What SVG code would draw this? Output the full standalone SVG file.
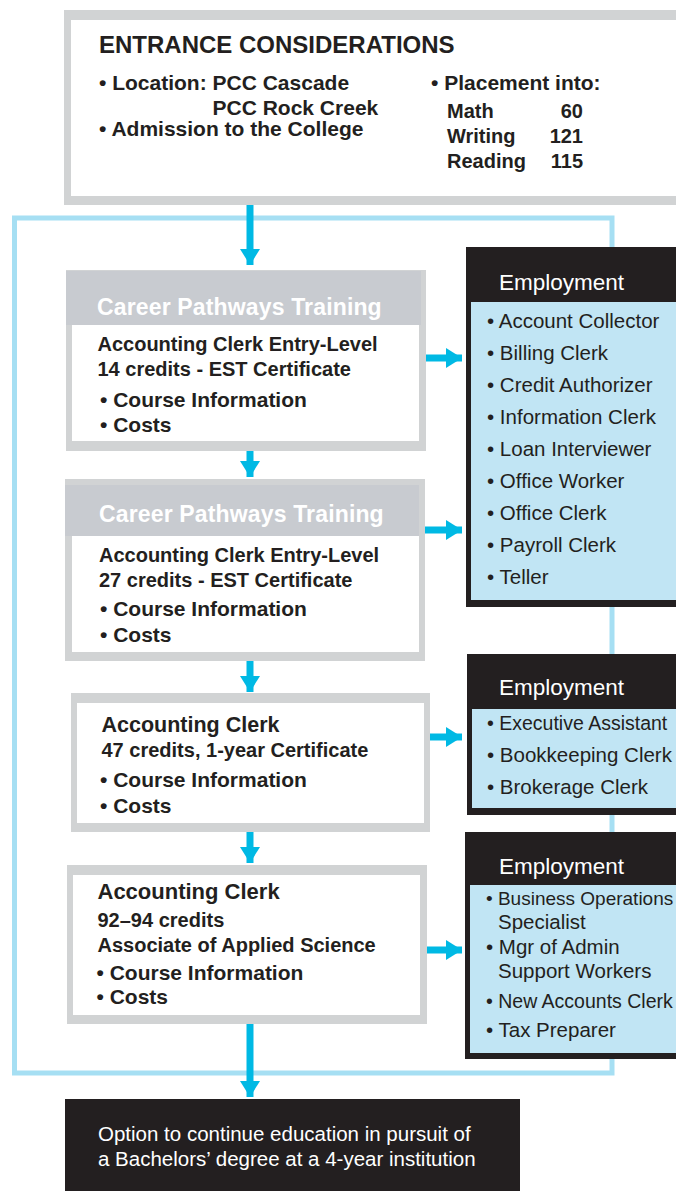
<svg xmlns="http://www.w3.org/2000/svg" width="676" height="1191" viewBox="0 0 676 1191">
<style>
.border{fill:#d1d3d4}
.hdr{fill:#c8cbd0}
.white{fill:#ffffff}
.blk{fill:#231f20}
.lb{fill:#c1e5f4}
.t{font-family:"Liberation Sans",Arial,Helvetica,sans-serif;fill:#231f20}
.b{font-weight:bold}
.h1{font-size:24px;font-weight:bold}
.e{font-size:21px;font-weight:bold}
.m{font-size:20px;font-weight:bold}
.ch{font-family:"Liberation Sans",Arial,sans-serif;font-size:23px;font-weight:bold;fill:#ffffff;letter-spacing:0.15px}
.emp{font-family:"Liberation Sans",Arial,sans-serif;font-size:22.5px;fill:#ffffff}
.li{font-family:"Liberation Sans",Arial,sans-serif;font-size:20.5px;fill:#231f20}
.opt{font-family:"Liberation Sans",Arial,sans-serif;font-size:20.5px;fill:#ffffff}
.conn{stroke:#00b9e4;stroke-width:7;fill:none}
</style>
<defs>
<marker id="ah" viewBox="0 0 16 20" markerUnits="userSpaceOnUse" markerWidth="16" markerHeight="20" refX="16" refY="10" orient="auto">
<path d="M0,0 L16,10 L0,20 Z" fill="#00b9e4"/>
</marker>
</defs>
<rect width="676" height="1191" fill="#ffffff"/>

<!-- frame -->
<rect id="frame" x="14.5" y="218" width="597.5" height="855" fill="none" stroke="#a6dff3" stroke-width="5"/>

<!-- entrance -->
<g id="entrance">
<rect class="border" x="64" y="10" width="626" height="195"/>
<rect class="white" x="71" y="20" width="619" height="176"/>
<text class="t h1" x="99" y="53">ENTRANCE CONSIDERATIONS</text>
<text class="t e" x="99" y="90">• Location: PCC Cascade</text>
<text class="t e" x="212.5" y="115">PCC Rock Creek</text>
<text class="t e" x="99" y="136">• Admission to the College</text>
<text class="t e" x="431" y="90">• Placement into:</text>
<text class="t m" x="447" y="118">Math</text>
<text class="t m" x="583" y="118" text-anchor="end">60</text>
<text class="t m" x="447" y="143">Writing</text>
<text class="t m" x="583" y="143" text-anchor="end">121</text>
<text class="t m" x="447" y="168">Reading</text>
<text class="t m" x="583" y="168" text-anchor="end">115</text>
</g>

<!-- box 1 -->
<g id="cpt1">
<rect class="border" x="66" y="270" width="360" height="181"/>
<rect class="hdr" x="66" y="271" width="355" height="54"/>
<rect class="white" x="72" y="325" width="347" height="116"/>
<text class="ch" x="97" y="315">Career Pathways Training</text>
<text class="t m" x="97.5" y="351">Accounting Clerk Entry-Level</text>
<text class="t m" x="97.5" y="376">14 credits - EST Certificate</text>
<text class="t e" x="100" y="407">• Course Information</text>
<text class="t e" x="100" y="432">• Costs</text>
</g>

<!-- box 2 -->
<g id="cpt2">
<rect class="border" x="65" y="479" width="360" height="182"/>
<rect class="hdr" x="65" y="485" width="354" height="51"/>
<rect class="white" x="72" y="536" width="347" height="116"/>
<text class="ch" x="99" y="522">Career Pathways Training</text>
<text class="t m" x="99" y="562">Accounting Clerk Entry-Level</text>
<text class="t m" x="99" y="587">27 credits - EST Certificate</text>
<text class="t e" x="100" y="616">• Course Information</text>
<text class="t e" x="100" y="642">• Costs</text>
</g>

<!-- box 3 -->
<g id="cert">
<rect class="border" x="71" y="693" width="359" height="139"/>
<rect class="white" x="77" y="703" width="347" height="120"/>
<text class="t b" style="font-size:21.5px" x="101.5" y="732">Accounting Clerk</text>
<text class="t m" x="101.5" y="757">47 credits, 1-year Certificate</text>
<text class="t e" x="100" y="787">• Course Information</text>
<text class="t e" x="100" y="813">• Costs</text>
</g>

<!-- box 4 -->
<g id="aas">
<rect class="border" x="67" y="865" width="360" height="159"/>
<rect class="white" x="73" y="875" width="347" height="140"/>
<text class="t b" style="font-size:22px" x="97.5" y="899">Accounting Clerk</text>
<text class="t m" x="97.5" y="927">92–94 credits</text>
<text class="t m" x="97.5" y="952">Associate of Applied Science</text>
<text class="t e" x="96.5" y="980">• Course Information</text>
<text class="t e" x="96.5" y="1004">• Costs</text>
</g>

<!-- employment 1 -->
<g id="emp1">
<rect class="blk" x="466" y="247" width="224" height="360"/>
<rect class="lb" x="471" y="302" width="219" height="298"/>
<text class="emp" x="499" y="290">Employment</text>
<text class="li" x="487" y="328">• Account Collector</text>
<text class="li" x="487" y="360">• Billing Clerk</text>
<text class="li" x="487" y="392">• Credit Authorizer</text>
<text class="li" x="487" y="424">• Information Clerk</text>
<text class="li" x="487" y="456">• Loan Interviewer</text>
<text class="li" x="487" y="488">• Office Worker</text>
<text class="li" x="487" y="520">• Office Clerk</text>
<text class="li" x="487" y="552">• Payroll Clerk</text>
<text class="li" x="487" y="584">• Teller</text>
</g>

<!-- employment 2 -->
<g id="emp2">
<rect class="blk" x="467" y="654" width="223" height="161"/>
<rect class="lb" x="472" y="709" width="218" height="99"/>
<text class="emp" x="499" y="695">Employment</text>
<text class="li" x="487" y="730" style="font-size:19.5px">• Executive Assistant</text>
<text class="li" x="487" y="762">• Bookkeeping Clerk</text>
<text class="li" x="487" y="794">• Brokerage Clerk</text>
</g>

<!-- employment 3 -->
<g id="emp3">
<rect class="blk" x="465" y="832" width="225" height="227"/>
<rect class="lb" x="470" y="885" width="220" height="168"/>
<text class="emp" x="499" y="874">Employment</text>
<text class="li" x="486" y="905" style="font-size:19px">• Business Operations</text>
<text class="li" x="498" y="929">Specialist</text>
<text class="li" x="486" y="954">• Mgr of Admin</text>
<text class="li" x="498" y="978">Support Workers</text>
<text class="li" x="486" y="1008" style="font-size:19.5px">• New Accounts Clerk</text>
<text class="li" x="486" y="1037">• Tax Preparer</text>
</g>

<!-- bachelor option -->
<g id="bachelor">
<rect class="blk" x="65" y="1099" width="455" height="92"/>
<text class="opt" x="98" y="1141">Option to continue education in pursuit of</text>
<text class="opt" x="98" y="1166">a Bachelors’ degree at a 4-year institution</text>
</g>

<!-- connectors -->
<g id="connectors">
<line class="conn" x1="250" y1="205" x2="250" y2="265" marker-end="url(#ah)"/>
<line class="conn" x1="250" y1="451" x2="250" y2="477" marker-end="url(#ah)"/>
<line class="conn" x1="250" y1="661" x2="250" y2="692" marker-end="url(#ah)"/>
<line class="conn" x1="250" y1="832" x2="250" y2="863" marker-end="url(#ah)"/>
<line class="conn" x1="250" y1="1024" x2="250" y2="1097" marker-end="url(#ah)"/>
<line class="conn" x1="426" y1="358" x2="462" y2="358" marker-end="url(#ah)"/>
<line class="conn" x1="425" y1="530" x2="462" y2="530" marker-end="url(#ah)"/>
<line class="conn" x1="430" y1="737" x2="462" y2="737" marker-end="url(#ah)"/>
<line class="conn" x1="427" y1="950" x2="462" y2="950" marker-end="url(#ah)"/>
</g>
</svg>
